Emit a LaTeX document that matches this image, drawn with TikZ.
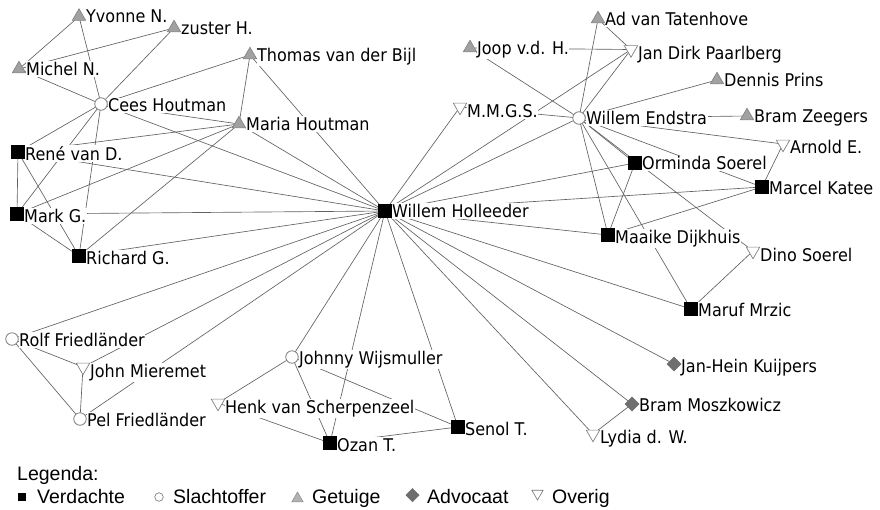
\documentclass[tikz,border=0pt]{standalone}
\usepackage{fontspec}
\newfontfamily\labfont[FakeStretch=0.915]{DejaVu Sans}
\newfontfamily\legfont{Liberation Sans}
\usetikzlibrary{shapes.geometric}
\pgfdeclarelayer{background}
\pgfdeclarelayer{labels}
\pgfsetlayers{background,labels,main}
\newcommand{\mklabel}[3][7.4]{\node[lab] (#2-l) at ([xshift=6.5pt,yshift=-#1pt]#2.center) {#3};}
\begin{document}
\begin{tikzpicture}[x=1pt,y=-1pt,
  mk/.style={inner sep=0pt, outer sep=0pt},
  susp/.style={mk, rectangle, fill=black, minimum size=13.5pt},
  vict/.style={mk, circle, draw=black!50, fill=white, minimum size=12.5pt, line width=0.8pt},
  witn/.style={mk, regular polygon, regular polygon sides=3, fill=black!37, draw=black!50, line width=0.6pt, minimum size=15.5pt},
  othr/.style={mk, regular polygon, regular polygon sides=3, shape border rotate=180, fill=white, draw=black!50, line width=0.7pt, minimum size=15.5pt},
  advo/.style={mk, diamond, fill=black!57, draw=black!57, minimum size=14pt},
  lab/.style={anchor=base west, fill=white, inner xsep=0.5pt, inner ysep=1pt, font=\labfont\fontsize{17.5}{20}\selectfont},
  edge/.style={draw=black!62, line width=0.65pt},
  legtext/.style={anchor=base west, inner sep=0pt, font=\legfont\fontsize{19.5}{22}\selectfont}
]
\useasboundingbox (0,0) rectangle (880,509);
% markers
\node[witn] (yvo) at (79,16.5) {};
\node[witn] (zus) at (174,28) {};
\node[witn] (mic) at (19,69) {};
\node[witn] (tho) at (250,55) {};
\node[vict] (cee) at (101,104) {};
\node[witn] (mar) at (239,124) {};
\node[susp] (ren) at (18,152) {};
\node[susp] (mrk) at (17,214) {};
\node[susp] (ric) at (79,256) {};
\node[susp] (hol) at (385,211) {};
\node[othr] (mmg) at (460,107) {};
\node[witn] (joo) at (470,48) {};
\node[witn] (adv) at (598,19) {};
\node[othr] (jdp) at (631,49.5) {};
\node[witn] (den) at (717,80) {};
\node[vict] (end) at (579,118) {};
\node[witn] (bze) at (747,116) {};
\node[othr] (arn) at (783,144) {};
\node[susp] (orm) at (635,163) {};
\node[susp] (mcl) at (762,187) {};
\node[susp] (maa) at (608,235) {};
\node[othr] (din) at (753,251) {};
\node[susp] (maf) at (691,309) {};
\node[advo] (jhk) at (674,364) {};
\node[advo] (bmo) at (632,404) {};
\node[othr] (lyd) at (593,434) {};
\node[vict] (rol) at (12,339) {};
\node[othr] (joh) at (83,367) {};
\node[vict] (pel) at (80,419) {};
\node[vict] (jwi) at (292,357) {};
\node[othr] (hen) at (218,403) {};
\node[susp] (oza) at (330,443) {};
\node[susp] (sen) at (458,427) {};
% labels
\begin{pgfonlayer}{labels}
\mklabel[6.4]{yvo}{Yvonne N.}
\mklabel[6.4]{zus}{zuster H.}
\mklabel[6.4]{mic}{Michel N.}
\mklabel[6.4]{tho}{Thomas van der Bijl}
\mklabel[7.6]{cee}{Cees Houtman}
\mklabel[6.4]{mar}{Maria Houtman}
\mklabel[8.4]{ren}{René van D.}
\mklabel[8.4]{mrk}{Mark G.}
\mklabel[8.4]{ric}{Richard G.}
\mklabel[6.7]{hol}{Willem Holleeder}
\mklabel[10.4]{mmg}{M.M.G.S.}
\mklabel[6.4]{joo}{Joop v.d. H.}
\mklabel[6.4]{adv}{Ad van Tatenhove}
\mklabel[10.4]{jdp}{Jan Dirk Paarlberg}
\mklabel[6.4]{den}{Dennis Prins}
\mklabel[6.7]{end}{Willem Endstra}
\mklabel[6.4]{bze}{Bram Zeegers}
\mklabel[9.7]{arn}{Arnold E.}
\mklabel[6.8]{orm}{Orminda Soerel}
\mklabel[7.6]{mcl}{Marcel Katee}
\mklabel[8.0]{maa}{Maaike Dijkhuis}
\mklabel[10.4]{din}{Dino Soerel}
\mklabel[7.6]{maf}{Maruf Mrzic}
\mklabel[8.0]{jhk}{Jan-Hein Kuijpers}
\mklabel[7.6]{bmo}{Bram Moszkowicz}
\mklabel[9.4]{lyd}{Lydia d. W.}
\mklabel[7.6]{rol}{Rolf Friedländer}
\mklabel[10.4]{joh}{John Mieremet}
\mklabel[7.6]{pel}{Pel Friedländer}
\mklabel[7.6]{jwi}{Johnny Wijsmuller}
\mklabel[10.4]{hen}{Henk van Scherpenzeel}
\mklabel[8.0]{oza}{Ozan T.}
\mklabel[8.0]{sen}{Senol T.}
\end{pgfonlayer}
% edges
\begin{pgfonlayer}{background}
\fill[white] (0,0) rectangle (880,509);
\foreach \a/\b in {yvo/mic, yvo/cee, zus/mic, zus/cee, tho/cee, tho/mar, tho/hol,
  mic/cee, cee/mar, cee/hol, cee/ren, cee/mrk, cee/ric,
  ren/mar, ren/hol, ren/mrk, ren/ric, mar/ric, mar/mrk, mar/hol,
  mrk/ric, mrk/hol, ric/hol,
  rol/hol, joh/hol, pel/hol, rol/joh, rol/pel, joh/pel,
  jwi/hol, jwi/hen, jwi/oza, jwi/sen, hen/oza, oza/hol, sen/hol, oza/sen,
  lyd/hol, bmo/hol, jhk/hol, maf/hol, bmo/lyd, din/maf, end/maf,
  mmg/hol, jdp/hol, end/hol, joo/end, joo/jdp, mmg/end, adv/end, adv/jdp, jdp/end,
  end/den, end/bze, end/arn, end/mcl, end/orm, end/maa, end/din,
  orm/maa, orm/hol, mcl/hol, maa/hol, maa/mcl, arn/mcl}
  \draw[edge] (\a) -- (\b);
\end{pgfonlayer}
% legend
\node[legtext] (legtitle) at (17,480) {Legenda:};
\node[mk, rectangle, fill=black, minimum size=8pt] (lg1) at (21.5,497) {};
\node[legtext] (lt1) at (37,503) {Verdachte};
\node[mk, circle, draw=black!50, fill=white, minimum size=8.5pt, line width=0.7pt] (lg2) at (159,497) {};
\node[legtext] (lt2) at (173,503) {Slachtoffer};
\node[mk, regular polygon, regular polygon sides=3, fill=black!30, draw=black!45, line width=0.5pt, minimum size=13pt] (lg3) at (297.5,498.5) {};
\node[legtext] (lt3) at (312,503) {Getuige};
\node[mk, diamond, fill=black!57, minimum size=14pt] (lg4) at (412.5,495) {};
\node[legtext] (lt4) at (427,503) {Advocaat};
\node[mk, regular polygon, regular polygon sides=3, shape border rotate=180, fill=white, draw=black!55, line width=0.6pt, minimum size=13pt] (lg5) at (537.5,493.5) {};
\node[legtext] (lt5) at (552,503) {Overig};
\end{tikzpicture}
\end{document}
